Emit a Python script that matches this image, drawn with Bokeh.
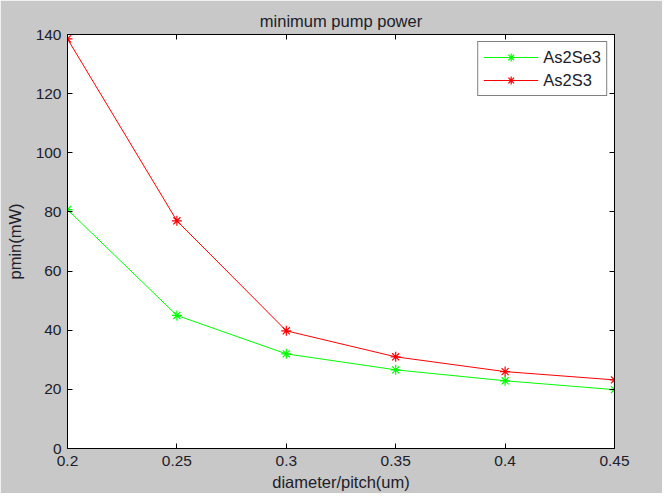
from bokeh.plotting import figure
from bokeh.models import LinearAxis, FixedTicker, Range1d, Legend, LegendItem
from bokeh.embed import file_html
from bokeh.resources import INLINE

x = [0.2, 0.25, 0.3, 0.35, 0.4, 0.45]
as2se3 = [80.8, 45.0, 32.0, 26.6, 22.9, 19.9]
as2s3 = [138.5, 77.0, 39.8, 31.0, 26.0, 23.2]
x_ticks = [0.2, 0.25, 0.3, 0.35, 0.4, 0.45]
x_tick_labels = ["0.2", "0.25", "0.3", "0.35", "0.4", "0.45"]
y_ticks = [0, 20, 40, 60, 80, 100, 120, 140]

FONT = "Liberation Sans"
TXT = "#20202a"

p = figure(width=662, height=493, output_backend="svg", toolbar_location=None,
           x_range=Range1d(0.2, 0.45), y_range=Range1d(0, 140),
           min_border_left=67, min_border_right=48, min_border_top=34, min_border_bottom=43,
           title="minimum pump power")
p.background_fill_color = "white"
p.border_fill_color = "#c8c8c8"
p.outline_line_color = "black"
p.outline_line_width = 1
p.grid.visible = False

p.title.align = "center"
p.title.text_font = FONT
p.title.text_font_size = "16.5px"
p.title.text_font_style = "normal"
p.title.text_color = TXT
p.title.standoff = 9

xa = p.xaxis[0]
ya = p.yaxis[0]
xa.ticker = FixedTicker(ticks=x_ticks)
xa.major_label_overrides = {t: l for t, l in zip(x_ticks, x_tick_labels)}
ya.ticker = FixedTicker(ticks=y_ticks)
for ax in (xa, ya):
    ax.major_tick_in = 5
    ax.major_tick_out = 0
    ax.minor_tick_in = 0
    ax.minor_tick_out = 0
    ax.axis_line_color = "black"
    ax.major_tick_line_color = "black"
    ax.major_label_text_font = FONT
    ax.major_label_text_font_size = "15.5px"
    ax.major_label_text_color = TXT
    ax.axis_label_text_font = FONT
    ax.axis_label_text_font_size = "16.5px"
    ax.axis_label_text_font_style = "normal"
    ax.axis_label_text_color = TXT
xa.major_label_standoff = 7
ya.major_label_standoff = 6
xa.axis_label = "diameter/pitch(um)"
ya.axis_label = "pmin(mW)"
xa.axis_label_standoff = 4
ya.axis_label_standoff = 9

for loc, tk in (("above", x_ticks), ("right", y_ticks)):
    ax2 = LinearAxis(ticker=FixedTicker(ticks=tk), major_tick_in=5, major_tick_out=0,
                     minor_tick_in=0, minor_tick_out=0,
                     major_label_overrides={t: "" for t in tk},
                     major_label_standoff=0, axis_line_color="black",
                     major_tick_line_color="black")
    p.add_layout(ax2, loc)

g_line = p.line(x, as2se3, line_color="#00ff00", line_width=1)
g_mark = p.scatter(x, as2se3, marker="asterisk", size=10, line_color="#00ff00", line_width=1.2)
r_line = p.line(x, as2s3, line_color="#ff0000", line_width=1)
r_mark = p.scatter(x, as2s3, marker="asterisk", size=10, line_color="#ff0000", line_width=1.2)

legend = Legend(items=[LegendItem(label="As2Se3", renderers=[g_line, g_mark]),
                       LegendItem(label="As2S3", renderers=[r_line, r_mark])],
                location="top_right")
legend.margin = 7
legend.padding = 5
legend.spacing = 3
legend.glyph_width = 55
legend.glyph_height = 20
legend.label_height = 20
legend.label_standoff = 5
legend.label_text_font = FONT
legend.label_text_font_size = "16.5px"
legend.label_text_color = TXT
legend.border_line_color = "black"
legend.border_line_width = 1
legend.background_fill_color = "white"
legend.background_fill_alpha = 1
p.add_layout(legend, "center")

open("out.html", "w").write(file_html(p, INLINE))
